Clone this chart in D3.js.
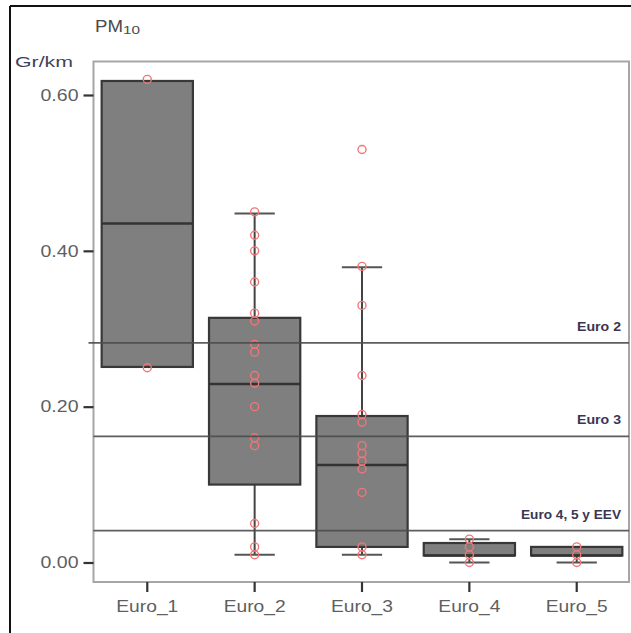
<!DOCTYPE html>
<html>
<head>
<meta charset="utf-8">
<script src="https://cdn.jsdelivr.net/npm/d3@7"></script>
<style>
  html, body { margin: 0; padding: 0; background: #fff; }
  svg { display: block; }
  text { font-family: "Liberation Sans", Arial, sans-serif; }
</style>
</head>
<body>
<svg id="chart" width="631" height="633"></svg>
<script>
// ---- data ----
const categories = ["Euro_1", "Euro_2", "Euro_3", "Euro_4", "Euro_5"];
const q1Values     = [0.251, 0.100, 0.020, 0.009, 0.009];
const medianValues = [0.435, 0.229, 0.125, 0.009, 0.009];
const q3Values     = [0.618, 0.314, 0.188, 0.025, 0.020];
const whiskerLow   = [null, 0.010, 0.010, 0.000, 0.000];
const whiskerHigh  = [null, 0.448, 0.379, 0.030, 0.020];
const pointsEuro1 = [0.62, 0.25];
const pointsEuro2 = [0.45, 0.42, 0.40, 0.36, 0.32, 0.31, 0.28, 0.27, 0.24, 0.23, 0.20, 0.16, 0.15, 0.05, 0.02, 0.01];
const pointsEuro3 = [0.53, 0.38, 0.33, 0.24, 0.19, 0.18, 0.15, 0.14, 0.13, 0.12, 0.09, 0.02, 0.01];
const pointsEuro4 = [0.03, 0.02, 0.01, 0.00];
const pointsEuro5 = [0.02, 0.01, 0.00];
const yTicks = [0.00, 0.20, 0.40, 0.60];
const refLabels = ["Euro 2", "Euro 3", "Euro 4, 5 y EEV"];
const refValues = [0.282, 0.162, 0.041];
const titleMain = "PM";
const titleSub = "10";
const unitLabel = "Gr/km";

const pointSets = [pointsEuro1, pointsEuro2, pointsEuro3, pointsEuro4, pointsEuro5];

const svg = d3.select("#chart");

// outer frame (left + top)
svg.append("line").attr("x1", 10).attr("x2", 631).attr("y1", 6).attr("y2", 6)
  .attr("stroke", "#111").attr("stroke-width", 2);
svg.append("line").attr("x1", 10).attr("x2", 10).attr("y1", 6).attr("y2", 633)
  .attr("stroke", "#111").attr("stroke-width", 2);

const plot = { left: 93.5, right: 629, top: 61.5, bottom: 582 };

const x = d3.scaleBand().domain(categories).range([93.6, 630.4]).padding(0);
const y = d3.scaleLinear().domain([0, 0.6]).range([562.5, 95]);

// plot frame
svg.append("rect")
  .attr("x", plot.left).attr("y", plot.top)
  .attr("width", plot.right - plot.left).attr("height", plot.bottom - plot.top)
  .attr("fill", "none").attr("stroke", "#a6a6a6").attr("stroke-width", 2);

// y axis
const yAxis = d3.axisLeft(y).tickValues(yTicks).tickFormat(d3.format(".2f"))
  .tickSize(10).tickPadding(5);
const gy = svg.append("g").attr("transform", `translate(${plot.left},0)`).call(yAxis);
gy.select(".domain").remove();
gy.selectAll(".tick line").attr("stroke", "#333").attr("stroke-width", 2.2);
gy.selectAll(".tick text")
  .attr("fill", "#5f5f5f").style("font-size", "16.5px")
  .attr("textLength", 38).attr("lengthAdjust", "spacingAndGlyphs");

// x axis
const xAxis = d3.axisBottom(x).tickSize(10).tickPadding(8);
const gx = svg.append("g").attr("transform", `translate(0,${plot.bottom})`).call(xAxis);
gx.select(".domain").remove();
gx.selectAll(".tick line").attr("stroke", "#333").attr("stroke-width", 2.2);
gx.selectAll(".tick text")
  .attr("fill", "#5f5f5f").style("font-size", "16.5px")
  .attr("textLength", 62).attr("lengthAdjust", "spacingAndGlyphs");

const bw = x.bandwidth();
const boxW = bw * 0.85;
const capW = bw * 0.375;
const cx = i => x(categories[i]) + bw / 2;

const g = svg.append("g");

// whiskers
categories.forEach((c, i) => {
  if (whiskerHigh[i] != null) {
    g.append("line").attr("x1", cx(i)).attr("x2", cx(i))
      .attr("y1", y(q3Values[i])).attr("y2", y(whiskerHigh[i]))
      .attr("stroke", "#444").attr("stroke-width", 2);
    g.append("line").attr("x1", cx(i) - capW / 2).attr("x2", cx(i) + capW / 2)
      .attr("y1", y(whiskerHigh[i])).attr("y2", y(whiskerHigh[i]))
      .attr("stroke", "#555").attr("stroke-width", 2);
  }
  if (whiskerLow[i] != null) {
    g.append("line").attr("x1", cx(i)).attr("x2", cx(i))
      .attr("y1", y(q1Values[i])).attr("y2", y(whiskerLow[i]))
      .attr("stroke", "#444").attr("stroke-width", 2);
    g.append("line").attr("x1", cx(i) - capW / 2).attr("x2", cx(i) + capW / 2)
      .attr("y1", y(whiskerLow[i])).attr("y2", y(whiskerLow[i]))
      .attr("stroke", "#555").attr("stroke-width", 2);
  }
});

// boxes
categories.forEach((c, i) => {
  g.append("rect")
    .attr("x", cx(i) - boxW / 2).attr("width", boxW)
    .attr("y", y(q3Values[i])).attr("height", y(q1Values[i]) - y(q3Values[i]))
    .attr("fill", "#7f7f7f").attr("stroke", "#383838").attr("stroke-width", 2.2);
  g.append("line")
    .attr("x1", cx(i) - boxW / 2).attr("x2", cx(i) + boxW / 2)
    .attr("y1", y(medianValues[i])).attr("y2", y(medianValues[i]))
    .attr("stroke", "#333").attr("stroke-width", 2.5);
});

// reference lines
refValues.forEach((v, i) => {
  svg.append("line")
    .attr("x1", plot.left - (i === 0 ? 5 : 0)).attr("x2", plot.right)
    .attr("y1", y(v)).attr("y2", y(v))
    .attr("stroke", "#4d4d4d").attr("stroke-width", 1.8).attr("opacity", 0.9);
  svg.append("text")
    .attr("x", 621).attr("y", y(v) - 12)
    .attr("text-anchor", "end")
    .attr("fill", "#3b3552").style("font-size", "12.5px").style("font-weight", "600")
    .attr("textLength", i === 2 ? 100 : 44).attr("lengthAdjust", "spacingAndGlyphs")
    .text(refLabels[i]);
});

// points
pointSets.forEach((pts, i) => {
  g.selectAll(null).data(pts).enter().append("circle")
    .attr("cx", cx(i)).attr("cy", d => y(d)).attr("r", 4)
    .attr("fill", "none").attr("stroke", "#f27676").attr("stroke-width", 1.4);
});

// title
const t = svg.append("text").attr("x", 95).attr("y", 32).attr("fill", "#4a4a4a");
t.append("tspan").style("font-size", "16px").attr("textLength", 28)
  .attr("lengthAdjust", "spacingAndGlyphs").text(titleMain);
t.append("tspan").style("font-size", "10px").attr("dy", 2).attr("textLength", 17)
  .attr("lengthAdjust", "spacingAndGlyphs").text(titleSub);

// unit label
svg.append("text").attr("x", 15).attr("y", 67)
  .attr("fill", "#3f3f5c").style("font-size", "15px")
  .attr("textLength", 58).attr("lengthAdjust", "spacingAndGlyphs")
  .text(unitLabel);
</script>
</body>
</html>
